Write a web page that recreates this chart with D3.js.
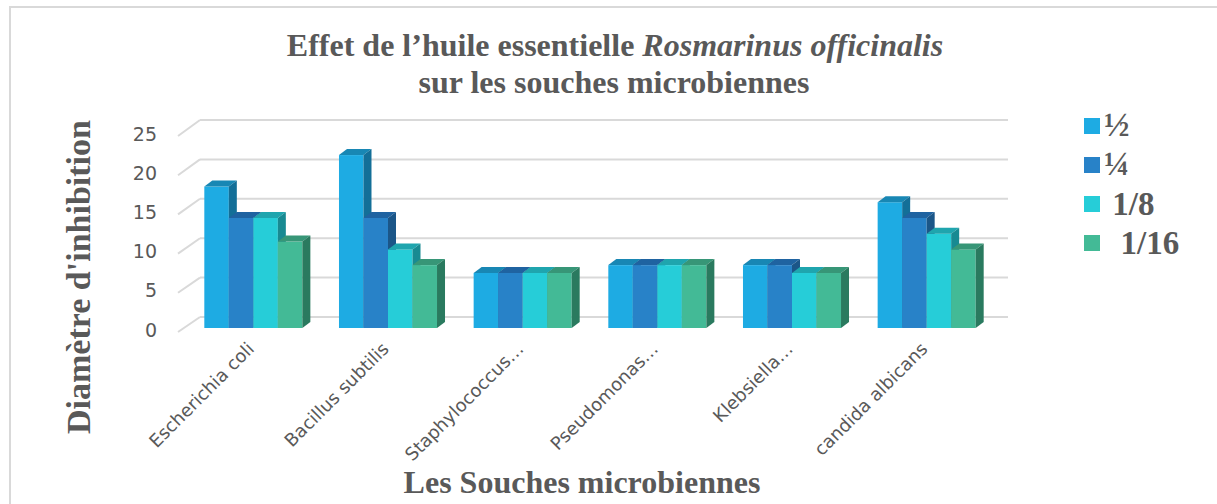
<!DOCTYPE html>
<html><head><meta charset="utf-8">
<script src="https://cdn.jsdelivr.net/npm/d3@7"></script>
<style>
html,body{margin:0;padding:0;background:#fff;}
svg{display:block;}
</style></head>
<body>
<svg id="c" width="1217" height="504"></svg>
<script>
const categories = ["Escherichia coli","Bacillus subtilis","Staphylococcus…","Pseudomonas…","Klebsiella…","candida albicans"];
const seriesNames = ["½","¼"," 1/8","  1/16"];
const valuesHalf    = [18,22,7,8,8,16];
const valuesQuarter = [14,14,7,8,8,14];
const valuesEighth  = [14,10,7,8,7,12];
const valuesSixteenth=[11,8,7,8,7,10];
const yTicks = [0,5,10,15,20,25];

const seriesValues = [valuesHalf,valuesQuarter,valuesEighth,valuesSixteenth];
const frontCol = ["#1eabe3","#2882c8","#26cdd8","#43ba96"];
const topCol   = ["#1887b4","#1f63a1","#1fa5ae","#379677"];
const sideCol  = ["#136f98","#1b5688","#188a92","#2a7a5f"];

const svg = d3.select("#c");
const grey = "#595959";

// frame
svg.append("rect").attr("x",10).attr("y",7).attr("width",1400).attr("height",700)
  .attr("fill","none").attr("stroke","#d9d9d9").attr("stroke-width",2);

const dx = 8, dy = 6, base = 328;
const x0 = d3.scaleBand().domain(categories).range([186,994]).paddingInner(0.272).paddingOuter(0.136);
const x1 = d3.scaleBand().domain(d3.range(4)).range([0,x0.bandwidth()]);
const yBar = d3.scaleLinear().domain([0,25]).range([base,131.5]);
const yBack = d3.scaleLinear().domain([0,25]).range([317,120]);
const yFront = d3.scaleLinear().domain([0,25]).range([332,136]);

// gridlines
const g = svg.append("g");
yTicks.forEach(t=>{
  g.append("line").attr("x1",200).attr("x2",1008).attr("y1",yBack(t)).attr("y2",yBack(t))
   .attr("stroke","#d9d9d9").attr("stroke-width",2);
  g.append("line").attr("x1",178).attr("x2",200).attr("y1",yFront(t)).attr("y2",yBack(t))
   .attr("stroke","#d9d9d9").attr("stroke-width",2);
  g.append("text").attr("x",157).attr("y",yFront(t)-1).attr("text-anchor","end")
   .attr("dominant-baseline","middle").attr("font-family","DejaVu Sans").attr("font-size",19)
   .attr("fill",grey).text(t);
});

// bars
const bars = svg.append("g");
categories.forEach((c,ci)=>{
  seriesValues.forEach((vals,si)=>{
    const v = vals[ci];
    const x = x0(c)+x1(si), w = x1.bandwidth(), yt = yBar(v);
    bars.append("rect").attr("x",x).attr("y",yt).attr("width",w).attr("height",base-yt).attr("fill",frontCol[si]);
    bars.append("path").attr("d",`M${x},${yt}L${x+dx},${yt-dy}L${x+w+dx},${yt-dy}L${x+w},${yt}Z`).attr("fill",topCol[si]);
    bars.append("path").attr("d",`M${x+w},${yt}L${x+w+dx},${yt-dy}L${x+w+dx},${base-dy}L${x+w},${base}Z`).attr("fill",sideCol[si]);
  });
});

// category labels
categories.forEach(c=>{
  const cx = x0(c)+x0.bandwidth()/2;
  svg.append("text").attr("transform",`translate(${cx+2},${350}) rotate(-45)`)
    .attr("text-anchor","end").attr("font-family","DejaVu Sans").attr("font-size",18)
    .attr("fill",grey).text(c);
});

// title
const title = svg.append("text").attr("x",615).attr("y",56).attr("text-anchor","middle")
  .attr("font-family","Liberation Serif").attr("font-weight","bold").attr("font-size",32).attr("fill",grey);
title.append("tspan").text("Effet de l’huile essentielle ");
title.append("tspan").attr("font-style","italic").text("Rosmarinus officinalis");
svg.append("text").attr("x",614).attr("y",93).attr("text-anchor","middle")
  .attr("font-family","Liberation Serif").attr("font-weight","bold").attr("font-size",32).attr("fill",grey)
  .text("sur les souches microbiennes");

// axis titles
svg.append("text").attr("x",582).attr("y",493).attr("text-anchor","middle")
  .attr("font-family","Liberation Serif").attr("font-weight","bold").attr("font-size",32).attr("fill",grey)
  .text("Les Souches microbiennes");
svg.append("text").attr("transform","translate(90,277) rotate(-90)").attr("text-anchor","middle")
  .attr("font-family","Liberation Serif").attr("font-weight","bold").attr("font-size",34).attr("fill",grey)
  .text("Diamètre d'inhibition");

// legend
const leg = svg.append("g");
seriesNames.forEach((n,i)=>{
  const cy = 126 + i*39;
  leg.append("rect").attr("x",1084).attr("y",cy-8).attr("width",16).attr("height",16).attr("fill",frontCol[i]);
  const small = n.trim().length===1;
  leg.append("text").attr("x",1104).attr("y",cy + (small?10:11)).style("white-space","pre")
    .attr("font-family","Liberation Serif").attr("font-weight","bold")
    .attr("font-size",small?34:33).attr("fill",grey).text(n);
});
</script>
</body></html>
